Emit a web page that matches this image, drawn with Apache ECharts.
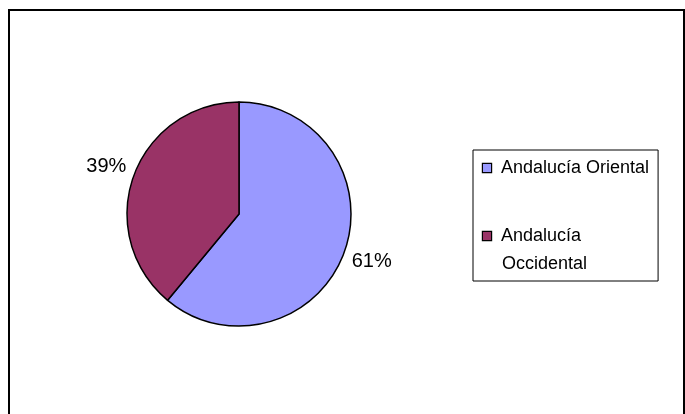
<!DOCTYPE html>
<html>
<head>
<meta charset="utf-8">
<script src="https://cdn.jsdelivr.net/npm/echarts@6/dist/echarts.min.js"></script>
<style>
html,body{margin:0;padding:0;background:#fff;}
#c{width:685px;height:414px;}
</style>
</head>
<body>
<div id="c"></div>
<script>
const categories = ['Andalucía Oriental', 'Andalucía Occidental'];
const values = [61, 39];
const colors = ['#9999FF', '#993366'];
const legendLines = [['Andalucía Oriental'], ['Andalucía', 'Occidental']];

const FONT = '"Liberation Sans", Arial, sans-serif';
const chart = echarts.init(document.getElementById('c'), null, {renderer: 'canvas'});

const rich = {
  t: {fontFamily: FONT, fontSize: 18, color: '#000', lineHeight: 28},
  g: {width: 10, height: 9},
  s: {width: 19, height: 9}
};
colors.forEach((c, i) => {
  rich['m' + i] = {width: 8, height: 8, backgroundColor: c, borderColor: '#000', borderWidth: 1.2};
});

chart.setOption({
  animation: false,
  backgroundColor: '#fff',
  graphic: [
    {type: 'rect', shape: {x: 9, y: 10, width: 675, height: 420},
     style: {fill: 'none', stroke: '#000', lineWidth: 2}, z: 100}
  ],
  legend: {
    orient: 'vertical',
    left: 473, top: 150,
    padding: [4, 9, 3, 4],
    itemGap: 40,
    itemWidth: 0, itemHeight: 0,
    icon: 'rect',
    itemStyle: {opacity: 0},
    borderColor: '#000', borderWidth: 1,
    data: categories,
    formatter: function (n) {
      const i = categories.indexOf(n);
      const lines = legendLines[i];
      return lines.map((l, k) => (k === 0 ? '{m' + i + '|}{g|}' : '{s|}') + '{t|' + l + '}').join('\n');
    },
    textStyle: {rich: rich, fontFamily: FONT, fontSize: 18, lineHeight: 28, color: '#000'}
  },
  series: [{
    type: 'pie',
    center: [239, 214],
    radius: 112,
    startAngle: 90,
    clockwise: true,
    data: categories.map((c, i) => ({name: c, value: values[i], itemStyle: {color: colors[i]}})),
    itemStyle: {borderColor: '#000', borderWidth: 1.5},
    label: {show: false},
    labelLine: {show: false}
  }, {
    type: 'pie',
    center: [239, 214],
    radius: [0, 276],
    startAngle: 90,
    clockwise: true,
    silent: true,
    z: 1,
    data: categories.map((c, i) => ({name: c, value: values[i]})),
    itemStyle: {color: 'rgba(0,0,0,0)', borderWidth: 0},
    emphasis: {disabled: true},
    label: {
      show: true, position: 'inside',
      formatter: p => Math.round(p.percent) + '%',
      fontFamily: FONT, fontSize: 20, color: '#000'
    },
    labelLine: {show: false}
  }]
});
</script>
</body>
</html>
